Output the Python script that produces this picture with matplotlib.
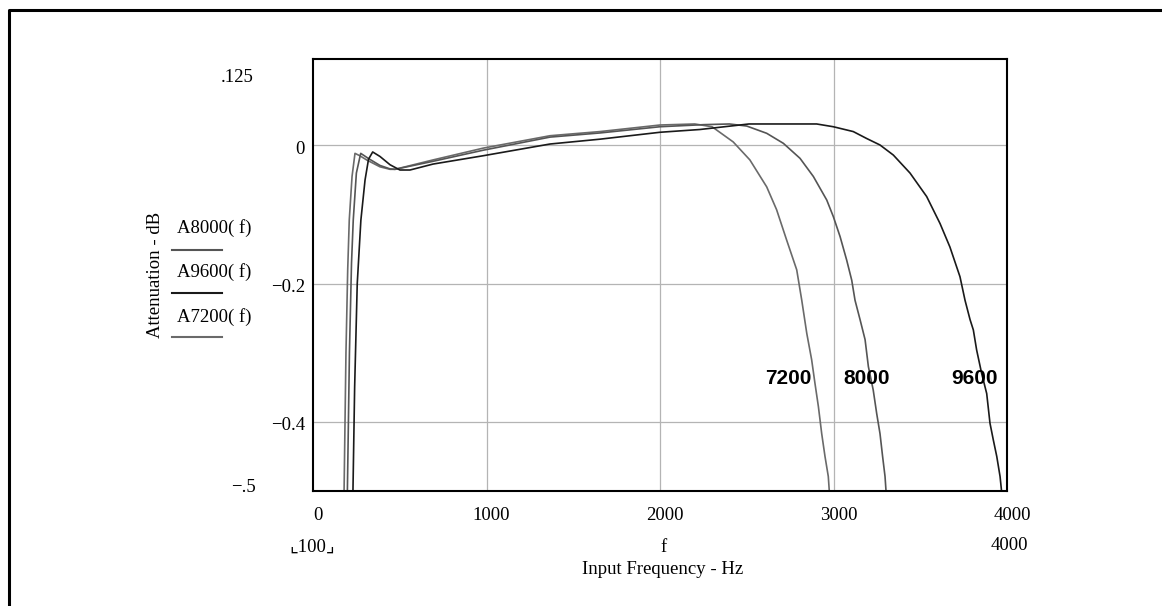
import numpy as np
import matplotlib.pyplot as plt
from matplotlib.lines import Line2D

# frequency (Hz) / attenuation (dB)
f7200 = [178, 190, 200, 209, 225, 242, 270, 309, 386, 444, 473, 692, 980,
         1366, 1654, 2000, 2200, 2300, 2422, 2518, 2615, 2672, 2730, 2788,
         2817, 2846, 2874, 2893, 2913, 2932, 2951, 2970, 2976, 2980]
a7200 = [-0.52, -0.30, -0.18, -0.108, -0.045, -0.0115, -0.015, -0.021,
         -0.031, -0.0346, -0.0346, -0.021, -0.004, 0.014, 0.020, 0.0295,
         0.031, 0.027, 0.005, -0.021, -0.060, -0.093, -0.137, -0.180,
         -0.224, -0.272, -0.310, -0.344, -0.378, -0.417, -0.450, -0.479,
         -0.501, -0.53]

f8000 = [197, 210, 222, 232, 250, 275, 320, 386, 444, 473, 692, 980, 1366,
         1654, 2000, 2250, 2400, 2500, 2615, 2711, 2807, 2884, 2961, 2999,
         3038, 3076, 3105, 3124, 3153, 3182, 3201, 3229, 3249, 3268, 3283,
         3297, 3303, 3306]
a8000 = [-0.52, -0.30, -0.17, -0.108, -0.04, -0.0115, -0.019, -0.029,
         -0.034, -0.0346, -0.023, -0.007, 0.012, 0.018, 0.027, 0.030, 0.031,
         0.028, 0.0175, 0.003, -0.0187, -0.045, -0.079, -0.103, -0.132,
         -0.166, -0.195, -0.224, -0.252, -0.281, -0.320, -0.354, -0.388,
         -0.417, -0.450, -0.479, -0.501, -0.53]

f9600 = [229, 240, 255, 276, 300, 320, 344, 386, 444, 501, 559, 692, 980,
         1366, 1654, 2000, 2230, 2513, 2903, 2999, 3114, 3191, 3268, 3345,
         3441, 3537, 3614, 3671, 3729, 3758, 3787, 3806, 3825, 3854, 3883,
         3902, 3921, 3941, 3960, 3969, 3972]
a9600 = [-0.52, -0.35, -0.20, -0.108, -0.05, -0.02, -0.0095, -0.016, -0.028,
         -0.0356, -0.0356, -0.027, -0.015, 0.002, 0.009, 0.019, 0.023, 0.031,
         0.031, 0.027, 0.020, 0.010, 0.0006, -0.014, -0.040, -0.074, -0.113,
         -0.147, -0.190, -0.224, -0.252, -0.267, -0.296, -0.330, -0.359,
         -0.402, -0.426, -0.450, -0.479, -0.501, -0.53]

xticks = [0, 1000, 2000, 3000, 4000]
yticks = [0, -0.2, -0.4]
ytick_labels = ['0', '\u22120.2', '\u22120.4']

c7200, c8000, c9600 = '#6a6a6a', '#555555', '#1a1a1a'
serif = ['Liberation Serif', 'DejaVu Serif', 'DejaVu Sans']

W, H = 1162, 606
fig = plt.figure(figsize=(W / 100, H / 100), dpi=100)


def fx(x):
    return x / W


def fy(y):
    return 1 - y / H


ax = fig.add_axes([fx(313), fy(491), fx(1007) - fx(313), fy(59) - fy(491)])
ax.set_xlim(0, 4000)
ax.set_ylim(-0.5, 0.125)
for x in xticks[1:-1]:
    ax.axvline(x, color='#b4b4b4', lw=0.9, zorder=0)
for y in yticks:
    ax.axhline(y, color='#b4b4b4', lw=0.9, zorder=0)
ax.set_xticks([])
ax.set_yticks([])
for s in ax.spines.values():
    s.set_linewidth(1.5)

ax.plot(f7200, a7200, color=c7200, lw=1.2)
ax.plot(f8000, a8000, color=c8000, lw=1.2)
ax.plot(f9600, a9600, color=c9600, lw=1.2)

# curve labels
for txt, x in zip(['7200', '8000', '9600'], [788, 867, 975]):
    fig.text(fx(x), fy(378), txt, ha='center', va='center',
             family='Liberation Sans', weight='bold', fontsize=15)

# x tick labels (Mathcad puts them a little right of the grid line)
for x in xticks:
    px = 313 + x * 694 / 4000 + 5
    fig.text(fx(px), fy(515), str(x), ha='center', va='center',
             family=serif, fontsize=13.5)

# y tick labels
for y, lab in zip(yticks, ytick_labels):
    py = 145.4 - y * 691.2 + 4
    fig.text(fx(305), fy(py), lab, ha='right', va='center',
             family=serif, fontsize=13.5)
fig.text(fx(254), fy(77), '.125', ha='right', va='center',
         family=serif, fontsize=13.5)
fig.text(fx(256), fy(488), '\u2212.5', ha='right', va='center',
         family=serif, fontsize=13.5)

# range row and axis title
fig.text(fx(312), fy(547), '\u231e100\u231f', ha='center', va='center',
         family=serif, fontsize=13.5)
fig.text(fx(664), fy(547), 'f', ha='center', va='center',
         family=serif, fontsize=13.5)
fig.text(fx(1009), fy(546), '4000', ha='center', va='center',
         family=serif, fontsize=13.5)
fig.text(fx(663), fy(570), 'Input Frequency - Hz', ha='center', va='center',
         family=serif, fontsize=13.5)

fig.text(fx(155), fy(275), 'Attenuation - dB', rotation=90, ha='center',
         va='center', family=serif, fontsize=13.5)

# trace legend stacked on the y axis
legend = [('A8000( f)', c8000, 228, 250),
          ('A9600( f)', c9600, 272, 293),
          ('A7200( f)', c7200, 317, 337)]
for lab, col, ty, ly in legend:
    fig.text(fx(214), fy(ty), lab, ha='center', va='center',
             family=serif, fontsize=13.5)
    fig.add_artist(Line2D([fx(172), fx(222)], [fy(ly), fy(ly)],
                          color=col, lw=1.5))

# outer region frame (left and top edges only show)
fig.add_artist(Line2D([fx(8.5), fx(8.5), fx(1162)],
                      [fy(606), fy(10), fy(10)], color='black', lw=2.2))

fig.savefig('out.png', dpi=100)
